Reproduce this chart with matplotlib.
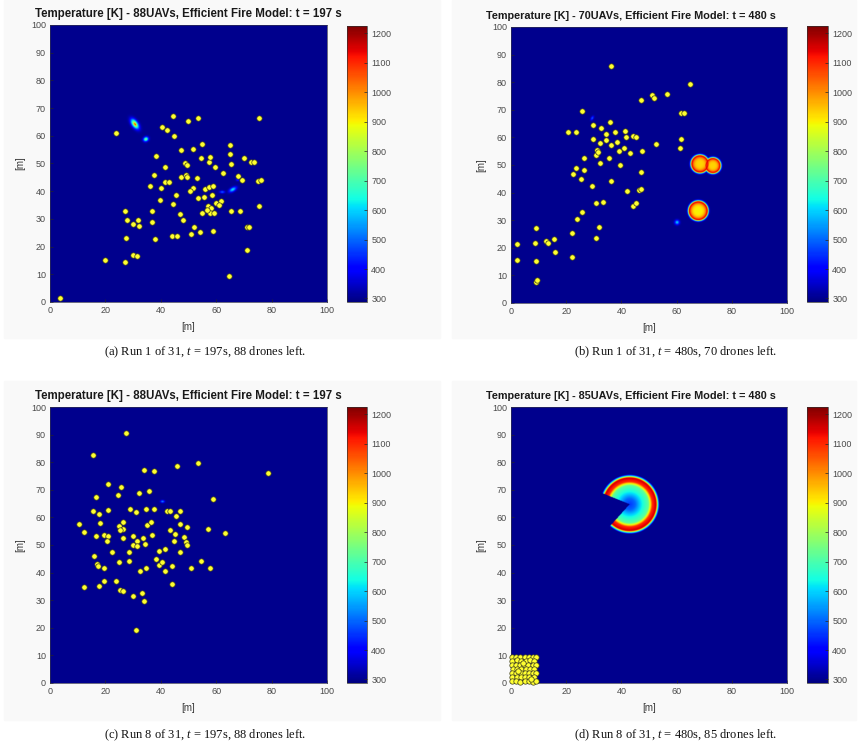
import numpy as np
import matplotlib.pyplot as plt
from matplotlib.patches import Rectangle

plt.rcParams['font.family'] = ['Liberation Sans', 'DejaVu Sans']
plt.rcParams['mathtext.fontset'] = 'custom'
plt.rcParams['mathtext.rm'] = 'Liberation Serif'
plt.rcParams['mathtext.it'] = 'Liberation Serif:italic'

# ---- drone positions [m] ----
drones_a_x = [3.6, 24, 20, 27, 30, 31.3, 27.6, 27, 27.8, 30, 31.6, 32.3, 37, 36.8, 38, 39.7, 36,
              37.4, 38.2, 41.6, 40, 41.6, 42.8, 44.5, 44.2, 45.9, 47, 48, 47.2, 49, 49.3, 47.2,
              48.8, 49.3, 51.8, 53, 51.8, 53.5, 52, 51, 54, 54.8, 54.5, 57.5, 57.7, 59.6, 56,
              57.4, 59, 55.7, 58.5, 57.2, 58.3, 57.8, 59.3, 55, 60, 61.8, 61, 59, 64.8, 65.2,
              68.7, 65.3, 65, 65, 67.9, 69.2, 70.2, 72.4, 73.6, 75.2, 76.2, 75.3, 71, 72, 71,
              75.6, 44.4, 49.9, 53.4, 40.6, 42.3, 44.6, 56.5, 50.5, 45.5, 62.5]
drones_a_y = [1.6, 61, 15, 14.6, 17, 16.5, 23, 32.8, 29.5, 28, 29.5, 27.3, 29, 32.9, 22.9, 37, 42,
              46, 52.6, 48.8, 41.2, 43.4, 43.4, 35.5, 24, 23.7, 31.6, 29.5, 45.2, 46, 45, 55,
              50, 49.6, 55.2, 44.6, 41.2, 37.7, 26.9, 24.7, 25.2, 57.2, 51.9, 50.6, 52.4, 48.7,
              40.7, 41.6, 41.8, 38, 38.7, 34.5, 34, 32.3, 32.3, 32, 35.9, 36.3, 35, 25.8, 9.4,
              32.8, 32.8, 49.8, 53.5, 56.7, 45.4, 43.9, 51.9, 50.4, 50.4, 43.6, 44, 34.6, 27,
              26.9, 18.8, 66.3, 67, 65.4, 66.5, 63, 62, 59.8, 33.3, 40.2, 38.5, 46.5]

drones_b_x = [36.3, 64.8, 47.1, 51, 51.8, 56.4, 61.6, 62.7, 61.7, 61.3, 52.5, 25.9, 20.5, 23.4,
              29.8, 35.7, 32.7, 34.5, 37.7, 41.4, 41.7, 44.3, 45.2, 29.8, 32.4, 34.5, 36.4, 31.3,
              30.7, 40.8, 39.3, 47.3, 26.5, 35.4, 32.3, 39.4, 23.5, 26.6, 22.5, 25.2, 47.2, 29.5,
              36.3, 41.9, 46.3, 47.2, 30.7, 33.5, 44.1, 45.3, 25.9, 23.9, 31.8, 22, 30.7, 8.9, 2,
              8.8, 12.8, 13.3, 15.7, 15.9, 22, 2, 9, 9, 9.4, 31.5, 38.5, 43]
drones_b_y = [85.8, 79.2, 73.6, 75.2, 74.3, 75.9, 68.9, 68.7, 59.5, 56, 57.5, 69.6, 62, 61.8,
              64.5, 65.7, 63.3, 61.3, 61.9, 62.2, 60.2, 60.6, 60, 59.5, 57.8, 59, 57.3, 55.4,
              53.7, 56.1, 55, 54.9, 52.4, 52.6, 50.7, 49.9, 48.8, 48.2, 46.6, 44.8, 47.5, 42.5,
              44.1, 40.7, 41.1, 41.4, 36.4, 36.5, 35.3, 36.3, 33.1, 30.4, 27.7, 25.4, 23.4, 27.3,
              21.3, 21.7, 22.4, 21.7, 23.1, 18.4, 16.5, 15.4, 15.3, 7.6, 8.2, 54.6, 58.2, 54.2]

drones_c_x = [27.4, 15.4, 33.8, 37.4, 46, 53.6, 78.6, 20.9, 25.5, 24.5, 32.1, 35.7, 16.5, 58.8,
              15.7, 17.7, 20.9, 28.8, 30.9, 34.6, 37.6, 42.2, 43.3, 47.1, 10.3, 17.9, 26.3, 25,
              26.4, 25.2, 35, 47, 49.3, 12.4, 16.7, 19.4, 20.9, 20.6, 26.4, 29.9, 33.7, 29.9,
              31.5, 31.5, 34.4, 43.3, 45.3, 44.9, 48.4, 49, 49.6, 57.2, 63.2, 39.4, 47, 16, 16.8,
              17.2, 19.4, 24.8, 28.4, 38.1, 39.2, 40.6, 41.6, 43.9, 32.6, 34.7, 50.8, 54.5, 57.6,
              12.3, 17.8, 19.6, 23.7, 25.2, 26.4, 30, 33.2, 34, 44.2, 31.2, 22.5, 36.5, 41.5, 28.5,
              37, 45.5]
drones_c_y = [90.6, 82.7, 77.3, 76.8, 78.7, 79.6, 76.1, 72.2, 71, 68.1, 69, 69.7, 67.3, 66.7,
              62.4, 61.2, 62.7, 63.2, 61.8, 63.2, 62.9, 62.4, 62.3, 62.2, 57.5, 58, 58.3, 56.8,
              55.8, 55.5, 57.1, 57.5, 56.5, 54.6, 53.1, 53.6, 53.1, 51.4, 52.4, 53.1, 52.4, 50.1,
              51.4, 49.6, 50.5, 55.6, 54.1, 51.3, 52.8, 51.1, 49.9, 55.8, 54.2, 47.8, 47.3, 46,
              43.2, 42.3, 41.7, 43.8, 44.2, 45, 42.9, 44, 40.5, 42.5, 40.7, 41.7, 41.7, 44.3, 41.7,
              34.9, 35, 36.8, 37.1, 33.7, 33.3, 31.4, 32.6, 29.6, 35.9, 19.2, 47.5, 58.5, 48.5,
              47.5, 53.5, 60.5]

drones_d_x = [0.3, 1.8, 3.4, 5.0, 6.5, 8.0, 9.0, 0.5, 2.1, 3.7, 5.3, 6.8, 8.2,
              0.2, 1.7, 3.2, 4.8, 6.3, 7.8, 9.1, 0.6, 2.2, 3.8, 5.4, 6.9, 8.4,
              0.3, 1.9, 3.5, 5.1, 6.6, 8.1, 9.0, 0.5, 2.0, 3.6, 5.2, 6.7, 8.3,
              0.2, 1.8, 3.3, 4.9, 6.4, 7.9, 9.1, 4.2, 2.6, 7.2]
drones_d_y = [9.5, 9.6, 9.5, 9.6, 9.5, 9.6, 9.4, 8.1, 8.2, 8.0, 8.1, 8.2, 8.0,
              6.6, 6.7, 6.5, 6.6, 6.7, 6.5, 6.6, 5.1, 5.2, 5.0, 5.1, 5.2, 5.0,
              3.6, 3.7, 3.5, 3.6, 3.7, 3.5, 3.6, 2.1, 2.2, 2.0, 2.1, 2.2, 2.0,
              0.6, 0.7, 0.5, 0.6, 0.7, 0.5, 0.6, 7.3, 4.3, 1.4]

# ---- fire sources: small hot spots (x, y, sx, sy, angle deg, peak K) ----
spots_a = [(30.6, 64.3, 1.9, 1.0, -55, 900), (30.7, 64.2, 1.2, 0.5, -55, 1120),
           (34.6, 58.8, 0.9, 0.75, 30, 760),
           (66.0, 40.6, 1.4, 0.7, 30, 620), (62.2, 39.7, 0.9, 0.45, 0, 500),
           (67.8, 44.2, 0.6, 0.5, 0, 460)]
spots_b = [(60.2, 29.2, 0.8, 0.8, 0, 600), (25.8, 69.4, 0.6, 0.4, 0, 450),
           (29.4, 67.0, 0.8, 0.45, 60, 490)]
spots_c = [(40.6, 65.8, 0.7, 0.45, 0, 540)]
spots_d = []
# burning disks (x, y, radius, core K, rim K)
disks_b = [(68.5, 50.4, 2.9, 930, 1160), (73.2, 49.8, 2.5, 930, 1160),
           (67.9, 33.4, 3.2, 900, 1160)]
# burnt-out ring with opening (x, y, core K, rim K, gap from deg, gap to deg)
rings_d = [(43.0, 64.8, 410, 1160, 158, 228)]
ring_r = [0, 2.0, 4.5, 6.8, 7.5, 8.2, 9.6, 10.2, 10.8]
ring_t = [0.06, 0.12, 0.3, 0.42, 0.65, 0.92, 1.0, 0.45, 0.0]

titles = ['Temperature [K] - 88UAVs, Efficient Fire Model: t = 197 s',
          'Temperature [K] - 70UAVs, Efficient Fire Model: t = 480 s',
          'Temperature [K] - 88UAVs, Efficient Fire Model: t = 197 s',
          'Temperature [K] - 85UAVs, Efficient Fire Model: t = 480 s']
captions = ['(a) Run 1 of 31, $t$ = 197s, 88 drones left.',
            '(b) Run 1 of 31, $t$ = 480s, 70 drones left.',
            '(c) Run 8 of 31, $t$ = 197s, 88 drones left.',
            '(d) Run 8 of 31, $t$ = 480s, 85 drones left.']
cbar_ticks = [300, 400, 500, 600, 700, 800, 900, 1000, 1100, 1200]
axis_ticks = [0, 10, 20, 30, 40, 50, 60, 70, 80, 90, 100]
x_ticks = [0, 20, 40, 60, 80, 100]

T_AMB = 300.0
T_MIN, T_MAX = 288, 1225

g = np.linspace(0, 100, 601)
X, Y = np.meshgrid(g, g)


def field(spots, disks=(), rings=()):
    T = np.full_like(X, T_AMB)
    for cx, cy, sx, sy, ang, peak in spots:
        a = np.deg2rad(ang)
        u = (X - cx) * np.cos(a) + (Y - cy) * np.sin(a)
        v = -(X - cx) * np.sin(a) + (Y - cy) * np.cos(a)
        T = np.maximum(T, T_AMB + (peak - T_AMB) * np.exp(-(u / sx) ** 2 - (v / sy) ** 2))
    for cx, cy, R, tc, tr in disks:
        r = np.hypot(X - cx, Y - cy)
        inside = tc + (tr - tc) * (r / R) ** 4
        outside = T_AMB + (tr - T_AMB) * np.exp(-((r - R) / 0.55) ** 2)
        T = np.maximum(T, np.where(r < R, inside, outside))
    for cx, cy, tc, tr, g0, g1 in rings:
        r = np.hypot(X - cx, Y - cy)
        th = np.degrees(np.arctan2(Y - cy, X - cx)) % 360
        frac = np.interp(r, ring_r, ring_t)
        ring = np.where(r < ring_r[-3], tc + (tr - tc) * frac, T_AMB + (tr - T_AMB) * frac)
        ring = np.where((th > g0) & (th < g1), T_AMB, ring)
        T = np.maximum(T, ring)
    return T


fields = [field(spots_a), field(spots_b, disks_b), field(spots_c), field(spots_d, rings=rings_d)]
drones = [(drones_a_x, drones_a_y), (drones_b_x, drones_b_y),
          (drones_c_x, drones_c_y), (drones_d_x, drones_d_y)]

W, H = 858, 749
fig = plt.figure(figsize=(W / 100, H / 100), dpi=100)


def rect(l, t, r, b):
    return [l / W, 1 - b / H, (r - l) / W, (b - t) / H]


# faint grey panel backgrounds
for l, t, r, b in [(4, 0, 440, 338), (452, 0, 856, 338), (4, 381, 440, 720), (452, 381, 856, 720)]:
    fig.patches.append(Rectangle((l / W, 1 - b / H), (r - l) / W, (b - t) / H,
                                 transform=fig.transFigure, color='#f9f9f9', zorder=-5))

ax_boxes = [(50, 25, 327, 302), (511, 27, 787, 303), (50, 407, 327, 683), (511, 407, 787, 683)]
cb_boxes = [(347, 26, 367, 302), (807, 26, 828, 302), (347, 407, 367, 683), (807, 407, 828, 683)]
cap_pos = [(205, 352), (676, 352), (205, 735), (676, 735)]
title_size = [8.3, 7.8, 8.3, 7.8]
title_x = [0.5, 0.435, 0.5, 0.435]

for i in range(4):
    ax = fig.add_axes(rect(*ax_boxes[i]))
    im = ax.imshow(fields[i], extent=[0, 100, 0, 100], origin='lower', cmap='jet',
                   vmin=T_MIN, vmax=T_MAX, interpolation='bilinear', aspect='auto')
    dx, dy = drones[i]
    ax.scatter(dx, dy, s=15, c='#ffff30', edgecolors='#3a3a20', linewidths=0.5,
               zorder=3, clip_on=False)
    ax.set_xlim(0, 100)
    ax.set_ylim(0, 100)
    ax.set_xticks(x_ticks)
    ax.set_yticks(axis_ticks)
    ax.tick_params(direction='in', length=2.5, width=0.5, labelsize=6.5,
                   labelcolor='#4a4a4a', color='#262626', pad=3)
    for s in ax.spines.values():
        s.set_linewidth(0.5)
        s.set_color('#303050')
    ax.set_xlabel('[m]', fontsize=7, color='#3a3a3a', labelpad=5)
    ax.set_ylabel('[m]', fontsize=7, color='#3a3a3a', labelpad=4)
    ax.set_title(titles[i], fontsize=title_size[i], fontweight='bold', color='#1a1a1a',
                 pad=6, x=title_x[i])

    cax = fig.add_axes(rect(*cb_boxes[i]))
    cb = fig.colorbar(im, cax=cax)
    cb.set_ticks(cbar_ticks)
    cb.ax.tick_params(direction='in', length=2, width=0.5, labelsize=6.5,
                      labelcolor='#4a4a4a', color='#262626', pad=3)
    cb.outline.set_linewidth(0.5)
    cb.outline.set_color('#303030')

    cx, cy = cap_pos[i]
    fig.text(cx / W, 1 - cy / H, captions[i], ha='center', va='center',
             fontsize=9, family='Liberation Serif', color='#111111')

fig.savefig('out.png', dpi=100)
